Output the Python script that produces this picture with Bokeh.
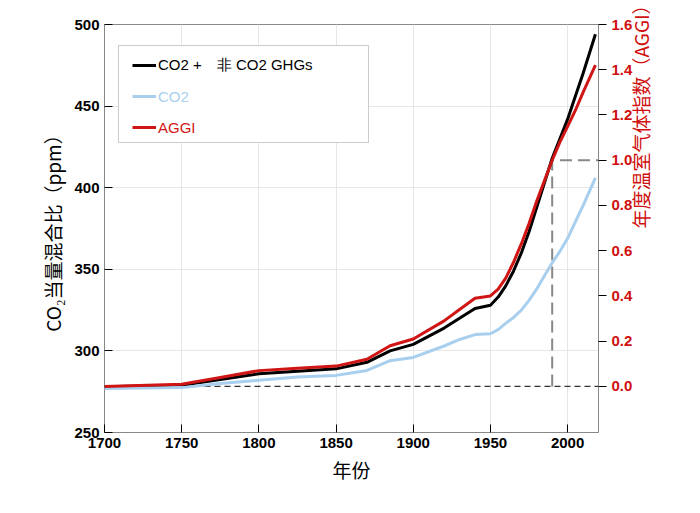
import math
from bokeh.plotting import figure
from bokeh.models import Range1d, LinearAxis, Legend, LegendItem, CustomJSTickFormatter
from bokeh.embed import file_html
from bokeh.resources import INLINE

years = [1700, 1750, 1775, 1800, 1825, 1850, 1870, 1885, 1900, 1920, 1930, 1940, 1950, 1955, 1960, 1965, 1970, 1975, 1980, 1985, 1990, 1995, 2000, 2005, 2010, 2018]
co2eq = [278, 279, 282.5, 286, 287.5, 289, 293, 300, 304, 314, 320, 326, 328, 333, 340, 349, 360, 373, 388, 403, 418, 430, 442, 456, 470, 494]
co2 = [277, 277.5, 280, 282, 284, 285, 288, 294, 296, 303, 307, 310, 310.5, 313, 317, 320.5, 325, 331, 338, 346, 354, 361, 369, 379, 389, 406]
aggi = [0, 0.01, 0.04, 0.07, 0.08, 0.09, 0.12, 0.18, 0.21, 0.29, 0.34, 0.39, 0.40, 0.43, 0.48, 0.55, 0.63, 0.72, 0.82, 0.91, 1.0, 1.08, 1.15, 1.22, 1.30, 1.42]
ref_year = 1990
x_ticks = [1700, 1750, 1800, 1850, 1900, 1950, 2000]
y_ticks = [250, 300, 350, 400, 450, 500]
r_ticks = [0.0, 0.2, 0.4, 0.6, 0.8, 1.0, 1.2, 1.4, 1.6]
labels = ["CO2 +　非 CO2 GHGs", "CO2", "AGGI"]
colors = ["black", "#a8cfee", "#d01515"]

p = figure(frame_width=494, frame_height=408, min_border_left=104, min_border_right=94,
           min_border_top=24, min_border_bottom=70, output_backend="svg", toolbar_location=None,
           x_range=Range1d(1700, 2020), y_range=Range1d(250, 500))
p.extra_y_ranges = {"aggi": Range1d(-0.2035, 1.6)}
p.outline_line_color = "#888888"
p.xgrid.grid_line_color = "#e6e6e6"
p.ygrid.grid_line_color = "#e6e6e6"
p.xaxis.ticker = x_ticks
p.yaxis.ticker = y_ticks
for ax in (p.xaxis[0], p.yaxis[0]):
    ax.major_label_text_font = "Liberation Sans"
    ax.major_label_text_font_style = "bold"
    ax.major_label_text_font_size = "15px"
    ax.major_label_text_color = "black"
    ax.axis_line_color = None
    ax.major_tick_out = 0
    ax.major_tick_in = 8
    ax.minor_tick_out = 0
    ax.minor_tick_in = 4
    ax.axis_label_text_font = "Noto Sans CJK SC"
    ax.axis_label_text_font_style = "normal"
    ax.axis_label_text_font_size = "19px"
    ax.axis_label_text_color = "black"
p.xaxis.axis_label = "年份"
p.yaxis.axis_label = "CO₂当量混合比（ppm）"

ra = LinearAxis(y_range_name="aggi", ticker=r_ticks, axis_label="年度温室气体指数（AGGI）")
ra.major_label_text_font = "Liberation Sans"
ra.major_label_text_font_style = "bold"
ra.major_label_text_font_size = "15px"
ra.major_label_text_color = "#d01010"
ra.axis_label_text_color = "#d01010"
ra.axis_label_text_font = "Noto Sans CJK SC"
ra.axis_label_text_font_style = "normal"
ra.axis_label_text_font_size = "19px"
ra.axis_label_orientation = math.pi / 2
ra.axis_line_color = "#888888"
ra.major_tick_out = 8
ra.major_tick_in = 0
ra.minor_tick_out = 4
ra.minor_tick_in = 0
ra.formatter = CustomJSTickFormatter(code="return tick.toFixed(1)")
p.add_layout(ra, "right")

p.line([1700, 2020], [0, 0], y_range_name="aggi", line_color="#333333", line_dash="6 4", line_width=1.2)
p.line([ref_year, ref_year, 2020], [0, 1.0, 1.0], y_range_name="aggi", line_color="#888888", line_dash="12 6", line_width=2)

l1 = p.line(years, co2eq, line_color=colors[0], line_width=3)
l2 = p.line(years, co2, line_color=colors[1], line_width=3)
l3 = p.line(years, aggi, y_range_name="aggi", line_color=colors[2], line_width=3)
rends = [l1, l2, l3]

# framed legend with invisible labels (for the box)
box = Legend(items=[LegendItem(label=labels[i], renderers=[rends[i]]) for i in range(3)],
             location=(14, 289))
box.label_text_font = "Liberation Sans"
box.label_text_font_size = "15px"
box.label_text_alpha = 0
box.glyph_width = 0
box.glyph_height = 20
box.border_line_color = "#999999"
box.margin = 0
box.padding = 7
box.spacing = 11
box.label_width = 230
box.label_height = 20
box.background_fill_alpha = 1
p.add_layout(box)

ys = [357, 326, 295]
for i in range(3):
    lg = Legend(items=[LegendItem(label=labels[i], renderers=[rends[i]])], location=(28, ys[i]))
    lg.label_text_font = "Liberation Sans"
    lg.label_text_font_size = "15px"
    lg.label_text_color = colors[i]
    lg.border_line_color = None
    lg.background_fill_alpha = 0
    lg.margin = 0
    lg.padding = 0
    lg.glyph_width = 24
    lg.glyph_height = 20
    lg.label_height = 20
    lg.label_standoff = 2
    p.add_layout(lg)

open("out.html", "w").write(file_html(p, INLINE))
